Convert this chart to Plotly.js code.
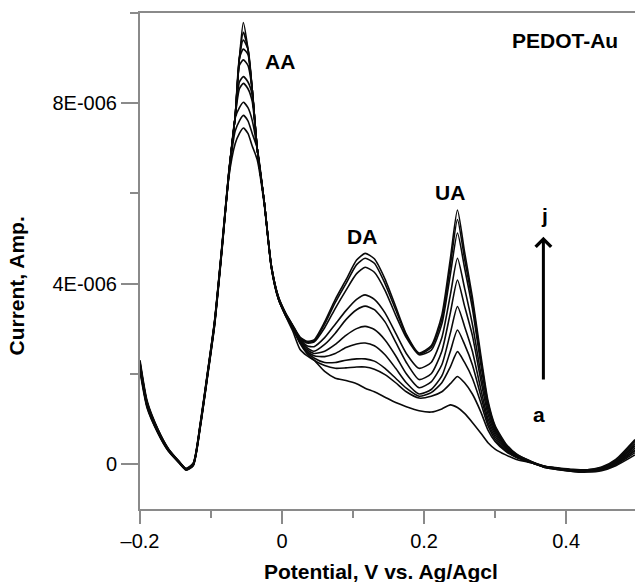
<!DOCTYPE html>
<html>
<head>
<meta charset="utf-8">
<script src="https://cdn.plot.ly/plotly-3.0.1.min.js"></script>
<style>html,body{margin:0;padding:0;background:#fff;}</style>
</head>
<body>
<div id="chart" style="width:635px;height:582px;"></div>
<script>
// Potential (V vs. Ag/AgCl), shared by all curves
const potential = [-0.2, -0.19, -0.175, -0.16, -0.145, -0.135, -0.125, -0.115, -0.105, -0.095, -0.085, -0.075,
  -0.066, -0.06, -0.0545, -0.048, -0.042, -0.035, -0.025, -0.015, -0.005, 0.005, 0.015,
  0.025, 0.035, 0.045, 0.06, 0.075, 0.09, 0.105, 0.117, 0.13, 0.145, 0.16, 0.175, 0.193,
  0.21, 0.225, 0.237, 0.247, 0.257, 0.268, 0.28, 0.29, 0.30, 0.315, 0.33, 0.35,
  0.37, 0.39, 0.41, 0.43, 0.45, 0.47, 0.497];

// Currents in microamps (curves a .. j)
const curveA = [2.05, 1.24, 0.69, 0.28, 0.02, -0.14, -0.04, 0.82, 1.92, 3.06, 4.66, 6.35,
  7.1, 7.33, 7.45, 7.33, 7.05, 6.75, 5.75, 4.35, 3.65, 3.28, 2.95,
  2.55, 2.4, 2.3, 2.05, 1.9, 1.85, 1.78, 1.68, 1.6, 1.48, 1.36, 1.27, 1.18,
  1.15, 1.22, 1.31, 1.25, 1.12, 0.92, 0.68, 0.47, 0.33, 0.2, 0.1, 0.03,
  -0.08, -0.13, -0.16, -0.15, -0.1, 0.05, 0.4];
const curveB = [2.1, 1.27, 0.7, 0.29, 0.03, -0.13, -0.03, 0.84, 1.94, 3.08, 4.68, 6.37,
  7.38, 7.61, 7.73, 7.61, 7.33, 7.0, 5.78, 4.35, 3.65, 3.29, 3.0,
  2.68, 2.45, 2.3, 2.18, 2.12, 2.13, 2.15, 2.15, 2.1, 1.98, 1.8, 1.6, 1.46,
  1.5, 1.6, 1.78, 1.94, 1.8, 1.55, 1.15, 0.75, 0.5, 0.28, 0.14, 0.03,
  -0.07, -0.12, -0.15, -0.16, -0.12, 0.0, 0.3];
const curveC = [2.12, 1.28, 0.71, 0.3, 0.03, -0.13, -0.02, 0.85, 1.95, 3.1, 4.7, 6.4,
  7.67, 7.9, 8.02, 7.9, 7.62, 7.0, 5.8, 4.35, 3.65, 3.3, 3.02,
  2.7, 2.48, 2.35, 2.25, 2.25, 2.3, 2.33, 2.33, 2.28, 2.12, 1.9, 1.68, 1.5,
  1.58, 1.8, 2.15, 2.49, 2.25, 1.9, 1.35, 0.85, 0.55, 0.3, 0.15, 0.03,
  -0.06, -0.1, -0.13, -0.14, -0.1, 0.05, 0.45];
const curveD = [2.15, 1.3, 0.72, 0.3, 0.04, -0.12, -0.02, 0.86, 1.96, 3.11, 4.71, 6.41,
  7.7, 8.32, 8.44, 8.32, 8.04, 7.0, 5.8, 4.36, 3.66, 3.3, 3.03,
  2.72, 2.5, 2.4, 2.38, 2.45, 2.58, 2.66, 2.68, 2.62, 2.42, 2.12, 1.8, 1.55,
  1.65, 1.95, 2.5, 2.97, 2.65, 2.2, 1.5, 0.92, 0.6, 0.33, 0.17, 0.04,
  -0.07, -0.11, -0.14, -0.16, -0.13, -0.02, 0.25];
const curveE = [2.18, 1.32, 0.73, 0.31, 0.04, -0.12, -0.01, 0.87, 1.97, 3.12, 4.72, 6.42,
  7.7, 8.47, 8.59, 8.47, 8.19, 7.0, 5.8, 4.37, 3.67, 3.31, 3.04,
  2.74, 2.54, 2.45, 2.5, 2.65, 2.85, 3.0, 3.05, 2.98, 2.75, 2.4, 2.0, 1.69,
  1.82, 2.2, 2.9, 3.49, 3.05, 2.5, 1.65, 1.0, 0.65, 0.36, 0.18, 0.04,
  -0.05, -0.09, -0.12, -0.13, -0.08, 0.08, 0.5];
const curveF = [2.2, 1.33, 0.74, 0.31, 0.04, -0.12, -0.01, 0.87, 1.98, 3.13, 4.73, 6.43,
  7.7, 8.84, 8.96, 8.84, 8.3, 7.0, 5.8, 4.38, 3.68, 3.32, 3.05,
  2.76, 2.58, 2.5, 2.65, 2.9, 3.2, 3.42, 3.5, 3.42, 3.15, 2.7, 2.25, 1.87,
  2.0, 2.5, 3.35, 4.08, 3.5, 2.85, 1.85, 1.1, 0.7, 0.38, 0.19, 0.05,
  -0.06, -0.1, -0.14, -0.15, -0.11, 0.02, 0.35];
const curveG = [2.22, 1.35, 0.75, 0.32, 0.05, -0.11, 0.0, 0.88, 1.99, 3.14, 4.74, 6.44,
  7.7, 9.0, 9.2, 9.08, 8.3, 7.0, 5.8, 4.38, 3.68, 3.33, 3.06,
  2.78, 2.62, 2.6, 2.8, 3.1, 3.4, 3.65, 3.75, 3.65, 3.35, 2.9, 2.45, 2.12,
  2.25, 2.8, 3.75, 4.56, 3.9, 3.1, 2.0, 1.2, 0.75, 0.4, 0.2, 0.05,
  -0.08, -0.13, -0.17, -0.18, -0.15, -0.04, 0.2];
const curveH = [2.24, 1.36, 0.76, 0.32, 0.05, -0.11, 0.0, 0.89, 2.0, 3.15, 4.75, 6.45,
  7.7, 9.0, 9.4, 9.2, 8.3, 7.0, 5.8, 4.39, 3.69, 3.33, 3.06,
  2.8, 2.68, 2.7, 3.02, 3.45, 3.85, 4.22, 4.36, 4.25, 3.85, 3.3, 2.8, 2.42,
  2.52, 3.1, 4.2, 5.12, 4.35, 3.45, 2.2, 1.3, 0.8, 0.42, 0.2, 0.05,
  -0.06, -0.11, -0.14, -0.15, -0.1, 0.04, 0.4];
const curveI = [2.26, 1.37, 0.77, 0.33, 0.05, -0.11, 0.01, 0.9, 2.01, 3.16, 4.76, 6.46,
  7.7, 9.0, 9.57, 9.2, 8.3, 7.0, 5.8, 4.4, 3.7, 3.34, 3.07,
  2.8, 2.7, 2.72, 3.1, 3.58, 4.0, 4.42, 4.56, 4.45, 4.0, 3.42, 2.85, 2.44,
  2.58, 3.2, 4.4, 5.42, 4.55, 3.6, 2.3, 1.35, 0.82, 0.43, 0.21, 0.06,
  -0.07, -0.12, -0.16, -0.17, -0.13, 0.0, 0.3];
const curveJ = [2.3, 1.4, 0.78, 0.34, 0.06, -0.1, 0.02, 0.92, 2.03, 3.18, 4.78, 6.48,
  7.7, 9.0, 9.79, 9.2, 8.3, 7.0, 5.8, 4.4, 3.7, 3.35, 3.08,
  2.82, 2.72, 2.75, 3.15, 3.65, 4.08, 4.52, 4.67, 4.55, 4.1, 3.49, 2.88, 2.46,
  2.62, 3.3, 4.55, 5.63, 4.7, 3.7, 2.4, 1.4, 0.85, 0.45, 0.22, 0.06,
  -0.05, -0.1, -0.13, -0.13, -0.07, 0.1, 0.54];

const curves = [curveA, curveB, curveC, curveD, curveE, curveF, curveG, curveH, curveI, curveJ];
const curveNames = ['a','b','c','d','e','f','g','h','i','j'];

const xTickVals = [-0.2, 0, 0.2, 0.4];
const xTickText = ['\u20130.2', '0', '0.2', '0.4'];
const xMinorVals = [-0.1, 0.1, 0.3];
const yTickVals = [0, 4e-6, 8e-6];
const yTickText = ['0', '4E-006', '8E-006'];
const yMinorVals = [2e-6, 6e-6, 1e-5];

const traces = curves.map((c, k) => ({
  type: 'scatter', mode: 'lines', name: curveNames[k],
  x: potential, y: c.map(v => v * 1e-6),
  line: {color: '#0a0a0a', width: 1.6, shape: 'spline', smoothing: 0.6},
  hoverinfo: 'skip'
}));

const axisGray = '#8a8a8a';
const bold = {family: 'Liberation Sans, Arial, sans-serif', size: 21, color: '#000'};

const layout = {
  width: 635, height: 582,
  margin: {l: 140, r: 0, t: 13, b: 73, pad: 0},
  paper_bgcolor: '#fff', plot_bgcolor: '#fff',
  showlegend: false,
  font: {family: 'Liberation Sans, Arial, sans-serif', color: '#000', size: 20},
  xaxis: {
    range: [-0.2, 0.497], tickvals: xTickVals, ticktext: xTickText,
    ticks: 'outside', ticklen: 13, tickwidth: 2, tickcolor: axisGray,
    showline: true, linecolor: axisGray, linewidth: 2, mirror: true,
    showgrid: false, zeroline: false, tickfont: {size: 20},
    minor: {tickvals: xMinorVals, ticks: 'outside', ticklen: 7, tickwidth: 2, tickcolor: axisGray, showgrid: false}
  },
  yaxis: {
    range: [-1e-6, 1.00005e-5], tickvals: yTickVals, ticktext: yTickText,
    ticks: 'outside', ticklen: 17, tickwidth: 2, tickcolor: axisGray,
    showline: true, linecolor: axisGray, linewidth: 2,
    showgrid: false, zeroline: false, tickfont: {size: 20},
    minor: {tickvals: yMinorVals, ticks: 'outside', ticklen: 8, tickwidth: 2, tickcolor: axisGray, showgrid: false}
  },
  annotations: [
    {xref: 'paper', yref: 'paper', x: 0.487, y: -0.125, text: '<b>Potential, V vs. Ag/Agcl</b>', showarrow: false, font: bold, xanchor: 'center', yanchor: 'middle'},
    {xref: 'paper', yref: 'paper', x: -0.2475, y: 0.4496, text: '<b>Current, Amp.</b>', textangle: -90, showarrow: false, font: bold, xanchor: 'center', yanchor: 'middle'},
    {x: -0.0024, y: 8.92e-6, text: '<b>AA</b>', showarrow: false, font: bold},
    {x: 0.1124, y: 5.05e-6, text: '<b>DA</b>', showarrow: false, font: bold},
    {x: 0.2368, y: 6.01e-6, text: '<b>UA</b>', showarrow: false, font: bold},
    {x: 0.3987, y: 9.4e-6, text: '<b>PEDOT-Au</b>', showarrow: false, font: bold},
    {x: 0.3694, y: 5.5e-6, text: '<b>j</b>', showarrow: false, font: bold},
    {x: 0.3624, y: 1.1e-6, text: '<b>a</b>', showarrow: false, font: bold},
    {x: 0.368, y: 5.04e-6, ax: 0.368, ay: 1.84e-6, axref: 'x', ayref: 'y', text: '', showarrow: true,
     arrowhead: 4, arrowsize: 1, arrowwidth: 3, arrowcolor: '#000', standoff: 0, startstandoff: 0}
  ]
};

Plotly.newPlot('chart', traces, layout, {staticPlot: true, displayModeBar: false});
</script>
</body>
</html>
